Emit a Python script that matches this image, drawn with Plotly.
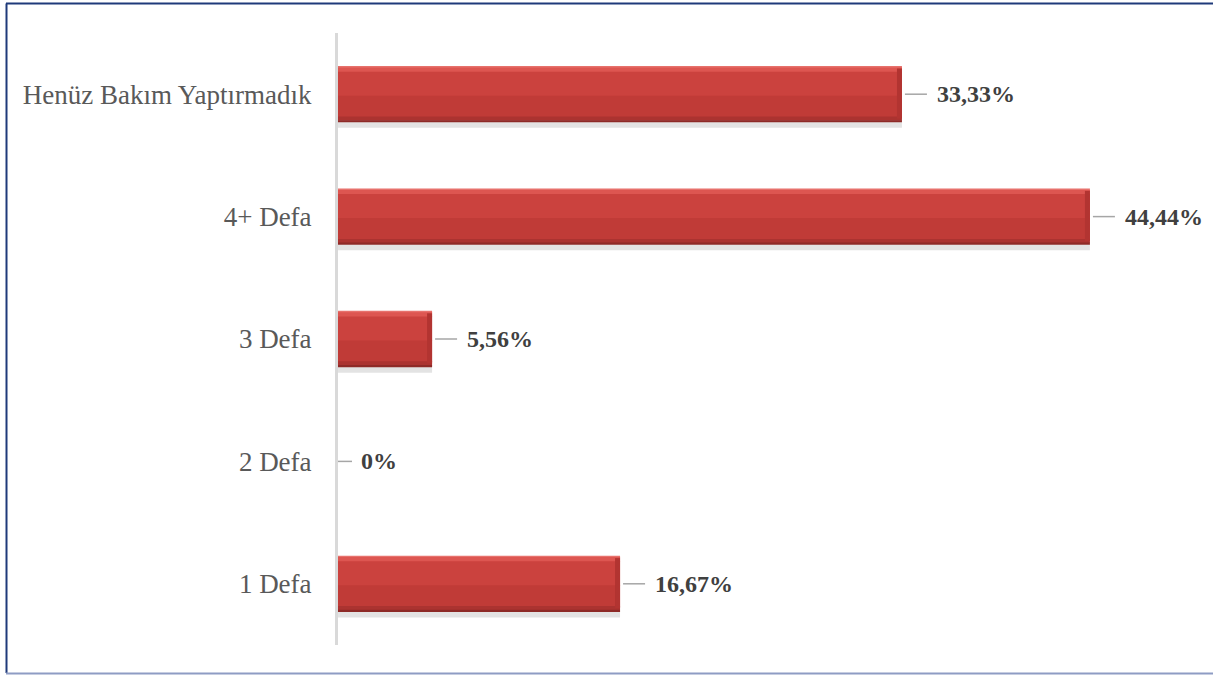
import plotly.graph_objects as go

# data, bottom to top as drawn
categories = ["1 Defa", "2 Defa", "3 Defa", "4+ Defa", "Henüz Bakım Yaptırmadık"]
values = [16.67, 0, 5.56, 44.44, 33.33]
value_labels = ["16,67%", "0%", "5,56%", "44,44%", "33,33%"]

W, H = 1213, 675
L, R, T, B = 338, 13, 33, 30
px_per_unit = 16.92
x_max = (W - L - R) / px_per_unit

# bands of the bar from top to bottom to fake the bevel/gradient look
bar_half = 0.23
bands = [
    (0.230, 0.016, "#e7716c"),
    (0.218, 0.040, "#dd5651"),
    (0.184, 0.202, "#cb423e"),
    (-0.012, 0.176, "#c03b37"),
    (-0.182, 0.034, "#ab3330"),
    (-0.212, 0.018, "#8e2a27"),
]

fig = go.Figure()

# soft shadow just under each bar
fig.add_trace(go.Bar(
    y=categories, x=values, orientation="h",
    offset=-bar_half - 0.045, width=0.05,
    marker=dict(color="rgba(0,0,0,0.11)", line_width=0),
    hoverinfo="skip", showlegend=False,
))

for top, w, col in bands:
    fig.add_trace(go.Bar(
        y=categories, x=values, orientation="h",
        offset=top - w, width=w,
        marker=dict(color=col, line_width=0),
        hoverinfo="skip", showlegend=False,
    ))

# darker right end of each bar
bevel = 5 / px_per_unit
shown = [c for c, v in zip(categories, values) if v > 0]
ends = [v for v in values if v > 0]
fig.add_trace(go.Bar(
    y=shown, x=[bevel] * len(shown), base=[v - bevel for v in ends], orientation="h",
    offset=-0.20, width=0.41,
    marker=dict(color="#b23431", line_width=0),
    hoverinfo="skip", showlegend=False,
))

# leader lines + value labels
for cat, v, lab in zip(categories, values, value_labels):
    fig.add_shape(type="line", xref="x", yref="y", xsizemode="pixel",
                  xanchor=v, x0=3 if v > 0 else -1, x1=25 if v > 0 else 14,
                  y0=cat, y1=cat, line=dict(color="#a6a6a6", width=1.5))
    fig.add_annotation(x=v, y=cat, xref="x", yref="y", text="<b>" + lab + "</b>",
                       showarrow=False, xanchor="left", xshift=33 if v > 0 else 21,
                       font=dict(family="Liberation Serif", size=24, color="#404040"))

# frame around the chart area (left / top navy, bottom lighter)
pw = W - L - R
ph = H - T - B
def px_x(p):
    return (p - L) / pw
def px_y(p):
    return 1 - (p - T) / ph

fig.add_shape(type="line", xref="paper", yref="paper",
              x0=px_x(6.5), x1=px_x(6.5), y0=px_y(3.5), y1=px_y(673),
              line=dict(color="#1f3a7a", width=2))
fig.add_shape(type="line", xref="paper", yref="paper",
              x0=px_x(6), x1=px_x(W), y0=px_y(3.5), y1=px_y(3.5),
              line=dict(color="#1f3a7a", width=2))
fig.add_shape(type="line", xref="paper", yref="paper",
              x0=px_x(6), x1=px_x(W), y0=px_y(673.5), y1=px_y(673.5),
              line=dict(color="#8e9cc4", width=2))

fig.update_layout(
    width=W, height=H,
    margin=dict(l=L, r=R, t=T, b=B),
    barmode="overlay",
    plot_bgcolor="white", paper_bgcolor="white",
    font=dict(family="Liberation Serif"),
    xaxis=dict(range=[0, x_max], visible=False, fixedrange=True),
    yaxis=dict(
        categoryorder="array", categoryarray=categories,
        showline=True, linecolor="#d9d9d9", linewidth=3,
        showgrid=False, zeroline=False, ticks="",
        ticklabelstandoff=18, fixedrange=True,
        tickfont=dict(family="Liberation Serif", size=27, color="#595959"),
    ),
)

fig.write_html("out.html", config={"displayModeBar": False},
               post_script="document.body.style.margin='0';")
